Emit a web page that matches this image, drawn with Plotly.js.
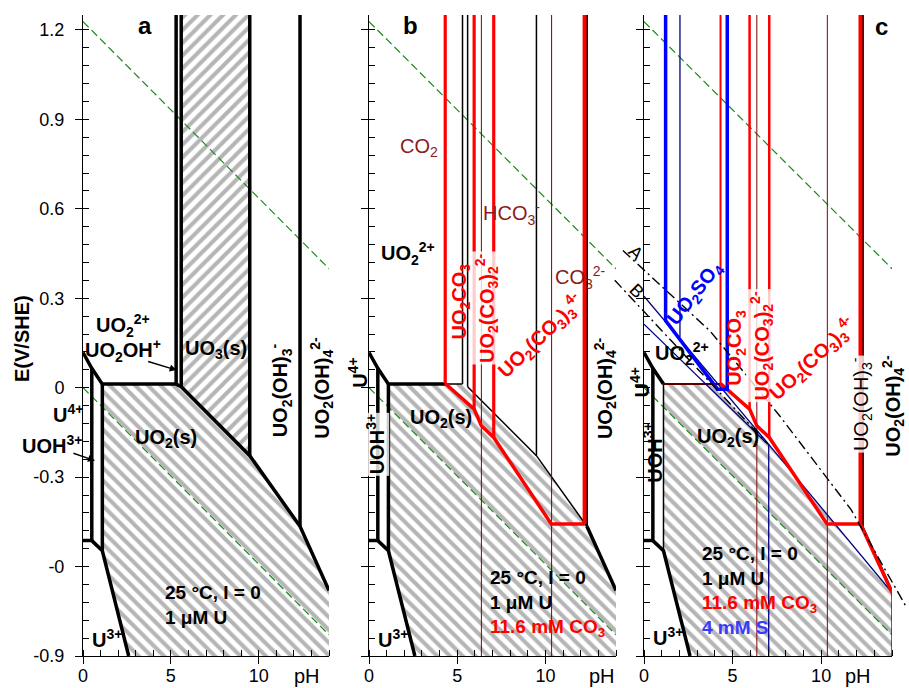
<!DOCTYPE html>
<html><head><meta charset="utf-8">
<script src="https://cdn.plot.ly/plotly-3.0.1.min.js"></script>
<style>html,body{margin:0;padding:0;background:#fff}#chart{width:909px;height:688px}</style>
</head><body><div id="chart"></div>
<script>
// ---------------- data ----------------
const pHRange = [0, 14];
const ERange = [-0.9, 1.25];
const xTickVals = [0, 5, 10];
const xTickText = ['0', '5', '10'];
const yTickVals = [-0.9, -0.6, -0.3, 0, 0.3, 0.6, 0.9, 1.2];
const yTickText = ['-0.9', '-0', '-0.3', '0', '0.3', '0.6', '0.9', '1.2'];

// water stability lines
const waterPH = [0, 14];
const waterO2E = [1.228, 0.399];
const waterH2E = [0.0, -0.829];

// U–H2O boundaries
const uTopPH = [0, 0.5, 1.1, 5.3];
const uTopE = [0.118, 0.065, 0.012, 0.012];
const uBotPH = [0, 0.5, 1.1, 2.6];
const uBotE = [-0.513, -0.513, -0.547, -0.9];
const uo2DiagPH = [5.3, 5.59, 9.49, 12.35, 14];
const uo2DiagE = [0.012, 0.003, -0.228, -0.465, -0.68];

// carbonate system
const co3BoundPH = [6.37, 10.35];
const uco3PathPH = [4.32, 5.96, 6.37, 7.07, 10.33, 12.22, 14];
const uco3PathE = [0.014, -0.072, -0.128, -0.167, -0.457, -0.457, -0.687];

// sulfur system
const so4PathPH = [1.22, 1.22, 4.15, 4.7, 4.7];
const so4PathE = [1.25, 0.225, -0.005, -0.005, 1.25];
const hso4VertPH = [2.03, 2.03];
const hso4VertE = [0.17, 1.25];
const sUpperPH = [0, 7.04, 14];
const sUpperE = [0.307, -0.19, -0.687];
const sLowerPH = [0, 6.9];
const sLowerE = [0.213, -0.185];
const lineApH = [-1.19, 3.73, 7.6, 11.7, 14.85];
const lineAE = [0.46, 0.19, -0.09, -0.41, -0.74];
const lineBpH = [-1.65, 1.38, 7.0];
const lineBE = [0.36, 0.167, -0.19];

// ---------------- styling / layout ----------------
const FONT = 'Liberation Sans, Arial, Helvetica, sans-serif';
const W = 909, H = 688;
const panelPx = [[83, 329], [369, 616], [644, 892]];
const AX = [{x:'x', y:'y'}, {x:'x2', y:'y2'}, {x:'x3', y:'y3'}, {x:'x4', y:'y3'}];
const RED = '#ff0000', DRED = '#800000', BLK = '#000000', BLUE = '#0000ff', NAVY = '#000080', GRN = '#1a8a1a';
const traces = [];

function addLine(p, xs, ys, color, width, dash) {
  traces.push({type:'scatter', mode:'lines', x: xs, y: ys, xaxis: AX[p].x, yaxis: AX[p].y,
    line:{color: color, width: width, dash: dash || 'solid'}, hoverinfo:'skip', showlegend:false});
}
function addVert(p, x, y0, color, width) { addLine(p, [x, x], [y0, ERange[1]], color, width); }
function addHatch(p, xs, ys, shape) {
  traces.push({type:'scatter', mode:'lines', x: xs, y: ys, xaxis: AX[p].x, yaxis: AX[p].y,
    fill:'toself', fillcolor:'rgba(0,0,0,0)', line:{width:0, color:'rgba(0,0,0,0)'},
    fillpattern:{shape: shape, size: 9, solidity: 0.45, fgcolor:'#b5b5b5', bgcolor:'#ffffff'},
    hoverinfo:'skip', showlegend:false});
}
function addWater(p) {
  addLine(p, waterPH, waterO2E, GRN, 1.2, '8px,4px');
  addLine(p, waterPH, waterH2E, GRN, 1.2, '8px,4px');
}
function addLeftU(p, wThin) {
  addLine(p, uTopPH.slice(0, 3), uTopE.slice(0, 3), BLK, 3.5);
  addLine(p, [uTopPH[1], uTopPH[1]], [uTopE[1], uBotE[1]], BLK, 3.5);
  addLine(p, [uTopPH[2], uTopPH[2]], [uTopE[2], uBotE[2]], BLK, wThin || 3.5);
  addLine(p, uBotPH, uBotE, BLK, 3.5);
}

// UO2(s) polygon (U–H2O)
const uo2PolyPH = [uTopPH[2]].concat(uo2DiagPH, [pHRange[1], uBotPH[3], uBotPH[2]]);
const uo2PolyE = [uTopE[2]].concat(uo2DiagE, [ERange[0], uBotE[3], uBotE[2]]);
// UO3(s) polygon
const uo3PolyPH = [uo2DiagPH[1], uo2DiagPH[2], uo2DiagPH[2], uo2DiagPH[1]];
const uo3PolyE = [uo2DiagE[1], uo2DiagE[2], ERange[1], ERange[1]];

// ----- panel a -----
addHatch(0, uo2PolyPH, uo2PolyE, '\\');
addHatch(0, uo3PolyPH, uo3PolyE, '/');
addWater(0);
addLeftU(0);
addLine(0, [uTopPH[2], uTopPH[3]], [uTopE[2], uTopE[3]], BLK, 3.5);
addLine(0, uo2DiagPH, uo2DiagE, BLK, 3.5);
for (let i = 0; i < 4; i++) addVert(0, uo2DiagPH[i], uo2DiagE[i], BLK, 3.5);

// ----- panel b -----
addHatch(1, uo2PolyPH, uo2PolyE, '\\');
addWater(1);
addLeftU(1);
addLine(1, [uTopPH[2], uTopPH[3]], [uTopE[2], uTopE[3]], BLK, 1.5);
addLine(1, [uTopPH[2], uco3PathPH[0]], [uTopE[2], uTopE[2]], BLK, 3.5);
addLine(1, uo2DiagPH.slice(1, 4), uo2DiagE.slice(1, 4), BLK, 1.5);
addLine(1, uo2DiagPH.slice(3), uo2DiagE.slice(3), BLK, 3.5);
for (let i = 0; i < 3; i++) addVert(1, uo2DiagPH[i], uo2DiagE[i], BLK, 1.5);
addVert(1, uo2DiagPH[3], uo2DiagE[3], BLK, 2.2);
co3BoundPH.forEach(v => addLine(1, [v, v], ERange, DRED, 1));
addLine(1, uco3PathPH.slice(0, 6), uco3PathE.slice(0, 6), RED, 3.5);
[0, 1, 3, 5].forEach(i => addVert(1, uco3PathPH[i], uco3PathE[i], RED, i === 5 ? 4 : 3.2));

// ----- panel c -----
const uo2cPH = [uTopPH[2], uco3PathPH[0], sUpperPH[1], sUpperPH[2], pHRange[1], uBotPH[3], uBotPH[2]];
const uo2cE = [uTopE[2], uTopE[2], sUpperE[1], sUpperE[2], ERange[0], uBotE[3], uBotE[2]];
addHatch(2, uo2cPH, uo2cE, '\\');
addWater(2);
addLeftU(2, 1.5);
addLine(2, [uTopPH[2], uco3PathPH[0]], [uTopE[2], uTopE[2]], '#5a0000', 2);
addLine(2, uo2DiagPH.slice(3), uo2DiagE.slice(3), BLK, 1.5);
addVert(2, uo2DiagPH[3], uo2DiagE[3], BLK, 2.2);
co3BoundPH.forEach(v => addLine(2, [v, v], ERange, DRED, 1));
addLine(2, sUpperPH, sUpperE, NAVY, 1.3);
addLine(2, sLowerPH, sLowerE, NAVY, 1.3);
addLine(2, hso4VertPH, hso4VertE, NAVY, 1.3);
addLine(2, [sUpperPH[1], sUpperPH[1]], [sUpperE[1], ERange[0]], NAVY, 1.3);
addLine(2, [sUpperPH[2], sUpperPH[2]], [sUpperE[2], ERange[0]], NAVY, 1.3);
addLine(2, uco3PathPH, uco3PathE, RED, 3.5);
addVert(2, uco3PathPH[0], uco3PathE[0], RED, 2);
addVert(2, uco3PathPH[1], uco3PathE[1], RED, 2.5);
addVert(2, uco3PathPH[3], uco3PathE[3], RED, 2.5);
addVert(2, uco3PathPH[5], uco3PathE[5], RED, 4);
addLine(2, so4PathPH, so4PathE, BLUE, 3.5);
addLine(3, lineApH, lineAE, BLK, 1.4, '10px,4px,2px,4px');
addLine(3, lineBpH, lineBE, BLK, 1.4, '10px,4px,2px,4px');

// ---------------- annotations ----------------
const ann = [];
function px2paper(p, x) {
  const s = (panelPx[p][1] - panelPx[p][0]) / (pHRange[1] - pHRange[0]);
  return (panelPx[p][0] + (x - pHRange[0]) * s) / W;
}
function lab(p, x, y, text, o) {
  o = o || {};
  ann.push({xref: 'paper', yref: AX[p].y, x: px2paper(p, x), y: y, text: text, showarrow: false,
    font: {family: FONT, size: o.size || 20, color: o.color || BLK, weight: o.weight || 'bold'},
    textangle: o.angle || 0, xanchor: o.xanchor || 'center', yanchor: 'middle',
    bgcolor: o.bg || 'rgba(0,0,0,0)', borderpad: 1, align: o.align || 'center'});
}
function arrow(p, x, y, ax, ay) {
  ann.push({xref: AX[p].x, yref: AX[p].y, x: x, y: y, ax: ax, ay: ay, text: '', showarrow: true,
    arrowhead: 2, arrowsize: 1, arrowwidth: 1.4, arrowcolor: BLK});
}
const BG = 'rgba(255,255,255,0.8)';
const UO22 = 'UO<sub>2</sub><sup>2+</sup>';
const UO2s = 'UO<sub>2</sub>(s)';
const OH3 = 'UO<sub>2</sub>(OH)<sub>3</sub><sup>-</sup>';
const OH4 = 'UO<sub>2</sub>(OH)<sub>4</sub><sup>2-</sup>';
const UCO3 = 'UO<sub>2</sub>CO<sub>3</sub>';
const UCO32 = 'UO<sub>2</sub>(CO<sub>3</sub>)<sub>2</sub><sup>2-</sup>';
const UCO33 = 'UO<sub>2</sub>(CO<sub>3</sub>)<sub>3</sub><sup>4-</sup>';
const L1 = '25 °C, I = 0<br>1 μM U';
const L2 = L1 + '<br><span style="color:#ff0000">11.6 mM CO<sub>3</sub></span>';
const L3 = L2 + '<br><span style="color:#3a3aff">4 mM S</span>';

// panel a
lab(0, 3.52, 1.215, 'a', {size: 24});
lab(0, 2.28, 0.208, UO22);
lab(0, 2.3, 0.124, 'UO<sub>2</sub>OH<sup>+</sup>');
arrow(0, 5.33, 0.059, -30, -9);
lab(0, 7.55, 0.128, 'UO<sub>3</sub>(s)');
lab(0, 11.25, -0.01, OH3, {angle: -90});
lab(0, 13.6, 0.0, OH4, {angle: -90});
lab(0, -0.85, -0.087, 'U<sup>4+</sup>');
lab(0, -1.76, -0.19, 'UOH<sup>3+</sup>');
arrow(0, 0.68, -0.245, -23, -8);
lab(0, 4.72, -0.17, UO2s);
lab(0, 4.55, -0.73, L1, {size: 19, xanchor: 'left', align: 'left'});
lab(0, 1.37, -0.84, 'U<sup>3+</sup>');

// panel b
lab(1, 2.33, 1.215, 'b', {size: 24});
lab(1, 2.84, 0.805, 'CO<sub>2</sub>', {weight: 'normal', color: '#8b1a1a'});
lab(1, 8.07, 0.584, 'HCO<sub>3</sub><sup>-</sup>', {weight: 'normal', color: '#8b1a1a'});
lab(1, 12.0, 0.369, 'CO<sub>3</sub><sup>2-</sup>', {weight: 'normal', color: '#8b1a1a'});
lab(1, 2.22, 0.45, UO22);
lab(1, 5.17, 0.29, UCO3, {angle: -90, color: RED});
lab(1, 6.7, 0.268, UCO32, {angle: -90, color: RED, bg: BG});
lab(1, 9.77, 0.174, UCO33, {angle: -44, color: RED});
lab(1, 13.4, 0.0, OH4, {angle: -90});
lab(1, -0.62, 0.05, 'U<sup>4+</sup>', {angle: -90});
lab(1, 0.34, -0.19, 'UOH<sup>3+</sup>', {angle: -90, bg: BG});
lab(1, 4.07, -0.104, UO2s);
lab(1, 6.76, -0.725, L2, {size: 19, xanchor: 'left', align: 'left'});
lab(1, 1.36, -0.84, 'U<sup>3+</sup>');

// panel c
lab(2, 13.4, 1.21, 'c', {size: 24});
lab(2, 2.9, 0.315, 'UO<sub>2</sub>SO<sub>4</sub>', {angle: -52, color: BLUE});
lab(2, 2.13, 0.114, UO22);
lab(2, 5.2, 0.134, UCO3, {angle: -90, color: RED});
lab(2, 6.66, 0.141, UCO32, {angle: -90, color: RED, bg: BG});
lab(2, 9.55, 0.097, UCO33, {angle: -43, color: RED});
lab(2, 12.27, -0.054, OH3, {angle: -90, weight: 'normal', bg: BG});
lab(2, 14.07, -0.06, OH4, {angle: -90});
lab(2, -0.23, 0.017, 'U<sup>4+</sup>', {angle: -90});
lab(2, 0.51, -0.218, 'UOH<sup>3+</sup>', {angle: -90});
lab(2, 4.72, -0.168, UO2s);
lab(2, 3.16, -0.681, L3, {size: 19, xanchor: 'left', align: 'left'});
lab(2, 1.36, -0.835, 'U<sup>3+</sup>');
lab(2, -0.45, 0.453, 'A', {angle: 45, weight: 'normal', size: 18});
lab(2, -0.4, 0.325, 'B', {angle: 45, weight: 'normal', size: 18});

// pH axis labels and y title
[[0, 12.73], [1, 13.18], [2, 12.9]].forEach(([p, x]) => ann.push({xref: 'paper', yref: 'paper', x: px2paper(p, x), y: 0,
  yshift: -20, text: 'pH', showarrow: false, yanchor: 'middle', font: {family: FONT, size: 20, color: BLK}}));
ann.push({xref: 'paper', yref: 'paper', x: 22 / W, y: (656 - 339) / 641, text: 'E(V/SHE)', textangle: -90,
  showarrow: false, xanchor: 'center', yanchor: 'middle', font: {family: FONT, size: 20, color: BLK, weight: 'bold'}});

// ---------------- axes ----------------
const layout = {
  width: W, height: H, margin: {l: 0, r: 0, t: 15, b: 32}, paper_bgcolor: '#ffffff', plot_bgcolor: 'rgba(0,0,0,0)',
  showlegend: false, annotations: ann, font: {family: FONT}
};
const xNames = ['xaxis', 'xaxis2', 'xaxis3'];
const yNames = ['yaxis', 'yaxis2', 'yaxis3'];
for (let i = 0; i < 3; i++) {
  layout[xNames[i]] = {domain: [panelPx[i][0] / W, panelPx[i][1] / W], range: pHRange, anchor: AX[i].y,
    showline: true, linecolor: BLK, linewidth: 1, ticks: 'outside', ticklen: 7, tickwidth: 1, tickcolor: BLK,
    tickmode: 'array', tickvals: xTickVals, ticktext: xTickText, ticklabelstandoff: -4,
    tickfont: {family: FONT, size: 18, color: BLK}, showgrid: false, zeroline: false, fixedrange: true,
    minor: {tickmode: 'linear', tick0: 0, dtick: 1, ticks: 'inside', ticklen: 6, tickcolor: BLK, tickwidth: 1, showgrid: false}};
  layout[yNames[i]] = {domain: [0, 1], range: ERange, anchor: AX[i].x,
    showline: true, linecolor: BLK, linewidth: 1, ticks: 'outside', ticklen: 7, tickwidth: 1, tickcolor: BLK,
    tickmode: 'array', tickvals: yTickVals, ticktext: yTickText, showticklabels: i === 0, ticklabelstandoff: 7,
    tickfont: {family: FONT, size: 18, color: BLK}, showgrid: false, zeroline: false, fixedrange: true,
    minor: {tickmode: 'linear', tick0: -0.9, dtick: 0.06, ticks: 'inside', ticklen: 6, tickcolor: BLK, tickwidth: 1, showgrid: false}};
}
const scaleC = (panelPx[2][1] - panelPx[2][0]) / (pHRange[1] - pHRange[0]);
const x4Left = panelPx[2][0] - 32;
layout.xaxis4 = {domain: [x4Left / W, 1], range: [(x4Left - panelPx[2][0]) / scaleC, (W - panelPx[2][0]) / scaleC],
  anchor: 'y3', visible: false, fixedrange: true};

Plotly.newPlot('chart', traces, layout, {staticPlot: true, displayModeBar: false});
</script></body></html>
